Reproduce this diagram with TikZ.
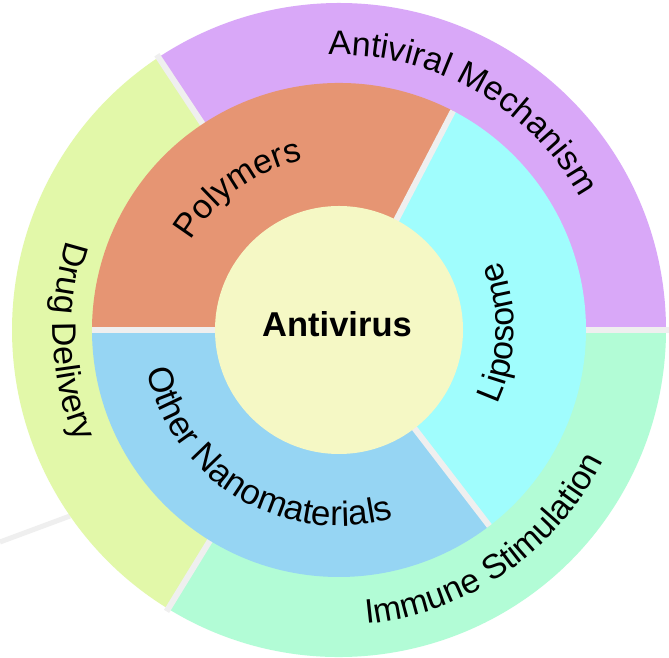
\documentclass[tikz,border=0pt]{standalone}
\usepackage{fontspec}
\setmainfont{Liberation Sans}
\usetikzlibrary{decorations.text}
\definecolor{cMech}{HTML}{D9A8F8}
\definecolor{cDrug}{HTML}{E2F8A9}
\definecolor{cImmune}{HTML}{B2FCD6}
\definecolor{cPoly}{HTML}{E69573}
\definecolor{cLipo}{HTML}{A0FDFD}
\definecolor{cOther}{HTML}{96D5F3}
\definecolor{cCore}{HTML}{F5F8C5}
\definecolor{cSep}{HTML}{EFEFEF}
\newcommand\lblfont{\fontsize{34}{40}\selectfont}
\newcommand\lblfontb{\fontsize{35}{40}\selectfont}
\tikzset{
  sepline/.style={draw=cSep, line width=6pt},
  ringlabel/.style={decorate, decoration={text along path, text align=center, text={|\lblfont|#1}}},
  ringlabelb/.style={decorate, decoration={text along path, text align=center, text={|\lblfontb|#1}}},
}
\begin{document}
\begin{tikzpicture}[x=1pt,y=1pt]
\useasboundingbox (0,0) rectangle (669,658);
\fill[white] (0,0) rectangle (669,658);
% faint leader line
\coordinate (la) at (0,116);
\coordinate (lb) at (70,142);
\draw[draw=cSep, line width=5pt] (la) -- (lb);
\begin{scope}[shift={(339,328)}]
  % outer ring
  \fill[cMech] (0,0) -- (0:327) arc[start angle=0,end angle=123.5,radius=327] -- cycle;
  \fill[cDrug] (0,0) -- (123.5:327) arc[start angle=123.5,end angle=238.5,radius=327] -- cycle;
  \fill[cImmune] (0,0) -- (238.5:327) arc[start angle=238.5,end angle=360,radius=327] -- cycle;
  \coordinate (o1a) at (0:230);    \coordinate (o1b) at (0:330);
  \coordinate (o2a) at (123.5:230); \coordinate (o2b) at (123.5:330);
  \coordinate (o3a) at (238.5:230); \coordinate (o3b) at (238.5:330);
  \draw[sepline] (o1a) -- (o1b);
  \draw[sepline] (o2a) -- (o2b);
  \draw[sepline] (o3a) -- (o3b);
  % middle ring
  \fill[cLipo] (0,0) -- (-52.5:247) arc[start angle=-52.5,end angle=62.5,radius=247] -- cycle;
  \fill[cPoly] (0,0) -- (62.5:247) arc[start angle=62.5,end angle=180,radius=247] -- cycle;
  \fill[cOther] (0,0) -- (180:247) arc[start angle=180,end angle=307.5,radius=247] -- cycle;
  \coordinate (m0) at (0,0);
  \coordinate (m1) at (62.5:247);
  \coordinate (m2) at (180:247);
  \coordinate (m3) at (307.5:247);
  \draw[sepline] (m0) -- (m1);
  \draw[sepline] (m0) -- (m2);
  \draw[sepline] (m0) -- (m3);
  % core
  \node[circle, fill=cCore, minimum size=248pt, inner sep=0pt] (core) at (0,0) {};
  \node[font=\fontsize{34.5}{40}\selectfont\bfseries, inner sep=0pt] (title) at (-2,6) {Antivirus};
  % labels
  \path[ringlabel={Antiviral Mechanism}] (115.5:275) arc[start angle=115.5,end angle=5.5,radius=275];
  \path[ringlabel={Drug Delivery}] (132.5:286) arc[start angle=132.5,end angle=232.5,radius=286];
  \path[ringlabel={Immune Stimulation}] (249.5:295) arc[start angle=249.5,end angle=359.5,radius=295];
  \path[ringlabel={Polymers}] (175.5:173) arc[start angle=175.5,end angle=75.5,radius=173];
  \path[ringlabel={Liposome}] (-51:175) arc[start angle=-51,end angle=49,radius=175];
  \path[ringlabelb={Other Nanomaterials}] (169:196) arc[start angle=169,end angle=309,radius=196];
\end{scope}
\end{tikzpicture}
\end{document}
